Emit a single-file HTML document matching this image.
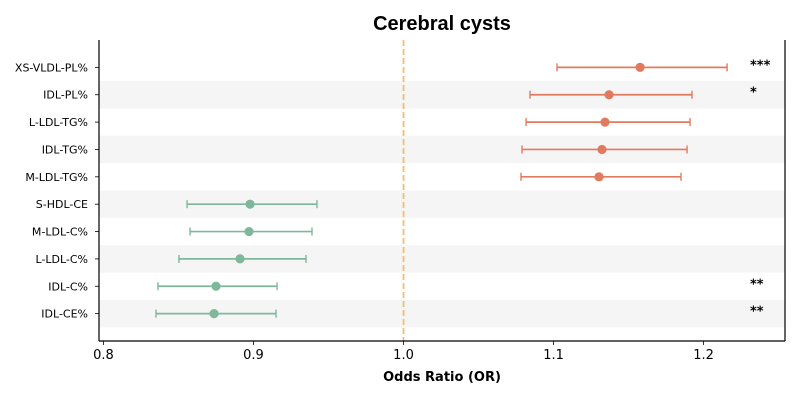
<!DOCTYPE html>
<html><head><meta charset="utf-8"><style>
body{margin:0;background:#fff;font-family:"DejaVu Sans","Liberation Sans",sans-serif}
</style></head><body>
<svg id="c" width="800" height="400" xmlns="http://www.w3.org/2000/svg"></svg>
<script>
const labels=["XS-VLDL-PL%","IDL-PL%","L-LDL-TG%","IDL-TG%","M-LDL-TG%","S-HDL-CE","M-LDL-C%","L-LDL-C%","IDL-C%","IDL-CE%"];
const orValues=[1.1577,1.137,1.1343,1.1323,1.1303,0.8977,0.897,0.891,0.875,0.8737];
const ciLow=[1.1023,1.0843,1.0817,1.079,1.0783,0.8557,0.8577,0.8503,0.8363,0.835];
const ciHigh=[1.2157,1.1923,1.191,1.189,1.185,0.9423,0.939,0.935,0.9157,0.915];
const stars=["***","*","","","","","","","**","**"];
const xTicks=[0.8,0.9,1.0,1.1,1.2];
const xTickLabels=["0.8","0.9","1.0","1.1","1.2"];
const L=99,R=785,T=40,B=341,xmin=0.797,xmax=1.2543;
const sx=v=>L+(v-xmin)/(xmax-xmin)*(R-L);
const rowH=(B-T)/11;
const sy=i=>T+rowH*(i+1);
const svg=document.getElementById('c');
const NS="http://www.w3.org/2000/svg";
function mk(t,a,name){const e=document.createElementNS(NS,t);for(const k in a)e.setAttribute(k,a[k]);


svg.appendChild(e);return e;}
labels.forEach((l,i)=>{if(i%2==1)mk('rect',{x:L,y:sy(i)-rowH/2,width:R-L,height:rowH,fill:'#f5f5f5'},'row-band');});
mk('line',{x1:sx(1),x2:sx(1),y1:T,y2:B,stroke:'#f0c070','stroke-width':1.8,'stroke-dasharray':'6,3'},'reference-line');
labels.forEach((l,i)=>{
 const y=sy(i),c=orValues[i]>1?'#e07b5f':'#7fb79b';
 mk('line',{x1:sx(ciLow[i]),x2:sx(ciHigh[i]),y1:y,y2:y,stroke:c,'stroke-width':1.7},'ci-line');
 mk('line',{x1:sx(ciLow[i]),x2:sx(ciLow[i]),y1:y-4,y2:y+4,stroke:c,'stroke-width':1.4},'ci-cap-low');
 mk('line',{x1:sx(ciHigh[i]),x2:sx(ciHigh[i]),y1:y-4,y2:y+4,stroke:c,'stroke-width':1.4},'ci-cap-high');
 mk('circle',{cx:sx(orValues[i]),cy:y,r:4.6,fill:c},'or-point');
 mk('line',{x1:L-4,x2:L,y1:y,y2:y,stroke:'#000','stroke-width':0.8},'y-tick');
 const t=mk('text',{x:L-11,y:y+4,'text-anchor':'end','font-size':11,fill:'#000'},'y-tick-label');t.textContent=l;
 if(stars[i]){const s=mk('text',{x:750,y:y+2,'font-size':13,'font-weight':'bold',fill:'#000'},'significance-stars');s.textContent=stars[i];}
});
xTicks.forEach((v,i)=>{mk('line',{x1:sx(v),x2:sx(v),y1:B,y2:B+4,stroke:'#000','stroke-width':0.8},'x-tick');
 const t=mk('text',{x:sx(v),y:B+18,'text-anchor':'middle','font-size':13,fill:'#000'},'x-tick-label');t.textContent=xTickLabels[i];});
mk('line',{x1:L,x2:L,y1:T,y2:B,stroke:'#000','stroke-width':1.2},'y-axis');
mk('line',{x1:R,x2:R,y1:T,y2:B,stroke:'#000','stroke-width':1.2},'right-spine');
mk('line',{x1:L,x2:R,y1:B,y2:B,stroke:'#000','stroke-width':1.2},'x-axis');
const xt=mk('text',{x:(L+R)/2,y:381,'text-anchor':'middle','font-size':13,'font-weight':'bold'},'x-axis-title');xt.textContent='Odds Ratio (OR)';
const ti=mk('text',{x:(L+R)/2,y:30,'text-anchor':'middle','font-size':20,'font-weight':'bold','font-family':'Liberation Sans, sans-serif'},'chart-title');ti.textContent='Cerebral cysts';
</script>
</body></html>
